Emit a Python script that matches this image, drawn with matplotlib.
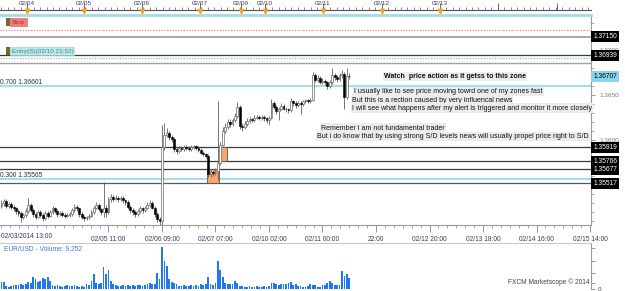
import matplotlib.pyplot as plt
from matplotlib.patches import Rectangle
from matplotlib.ticker import MultipleLocator, FixedLocator

plt.rcParams['font.family'] = ['Liberation Sans', 'DejaVu Sans']

W, H = 625, 291

# ------------------------------------------------
# EUR/USD hourly candles
# ------------------------------------------------
opens = [1.3527, 1.3530, 1.3532, 1.3527, 1.3529, 1.3526, 1.3524, 1.3521, 1.3519, 1.3514,
         1.3517, 1.3521, 1.3528, 1.3522, 1.3518, 1.3515, 1.3520, 1.3517, 1.3513, 1.3519,
         1.3516, 1.3520, 1.3524, 1.3521, 1.3518, 1.3519, 1.3517, 1.3516, 1.3517, 1.3518,
         1.3522, 1.3526, 1.3524, 1.3518, 1.3515, 1.3513, 1.3514, 1.3516, 1.3520, 1.3525,
         1.3528, 1.3523, 1.3520, 1.3525, 1.3520, 1.3534, 1.3537, 1.3535, 1.3536, 1.3534,
         1.3536, 1.3533, 1.3531, 1.3526, 1.3522, 1.3520, 1.3518, 1.3521, 1.3524, 1.3522,
         1.3525, 1.3528, 1.3530, 1.3525, 1.3518, 1.3512, 1.3510, 1.3592, 1.3606, 1.3608,
         1.3603, 1.3601, 1.3590, 1.3588, 1.3591, 1.3590, 1.3592, 1.3591, 1.3590, 1.3592,
         1.3593, 1.3591, 1.3589, 1.3586, 1.3584, 1.3582, 1.3562, 1.3564, 1.3563, 1.3566,
         1.3575, 1.3595, 1.3610, 1.3615, 1.3620, 1.3618, 1.3622, 1.3627, 1.3637, 1.3616,
         1.3614, 1.3618, 1.3621, 1.3623, 1.3622, 1.3625, 1.3626, 1.3624, 1.3626, 1.3624,
         1.3622, 1.3625, 1.3641, 1.3637, 1.3632, 1.3635, 1.3638, 1.3635, 1.3634, 1.3633,
         1.3643, 1.3641, 1.3639, 1.3641, 1.3640, 1.3643, 1.3644, 1.3643, 1.3645, 1.3672,
         1.3667, 1.3669, 1.3665, 1.3666, 1.3664, 1.3660, 1.3664, 1.3672, 1.3670, 1.3668,
         1.3672, 1.3673, 1.3648, 1.3671]
highs = [1.3533, 1.3535, 1.3534, 1.3531, 1.3531, 1.3528, 1.3526, 1.3523, 1.3521, 1.3519,
         1.3524, 1.3536, 1.3530, 1.3524, 1.3520, 1.3522, 1.3522, 1.3519, 1.3521, 1.3521,
         1.3522, 1.3527, 1.3526, 1.3523, 1.3521, 1.3521, 1.3519, 1.3519, 1.3520, 1.3524,
         1.3529, 1.3528, 1.3525, 1.3520, 1.3517, 1.3516, 1.3518, 1.3522, 1.3527, 1.3531,
         1.3530, 1.3525, 1.3553, 1.3528, 1.3537, 1.3540, 1.3539, 1.3539, 1.3538, 1.3538,
         1.3538, 1.3535, 1.3533, 1.3528, 1.3524, 1.3522, 1.3523, 1.3527, 1.3526, 1.3527,
         1.3531, 1.3533, 1.3532, 1.3527, 1.3520, 1.3514, 1.3617, 1.3619, 1.3613, 1.3610,
         1.3606, 1.3603, 1.3592, 1.3593, 1.3593, 1.3594, 1.3594, 1.3593, 1.3594, 1.3595,
         1.3595, 1.3593, 1.3591, 1.3588, 1.3586, 1.3584, 1.3567, 1.3567, 1.3569, 1.3643,
         1.3598, 1.3614, 1.3619, 1.3623, 1.3623, 1.3625, 1.3630, 1.3642, 1.3639, 1.3619,
         1.3621, 1.3624, 1.3626, 1.3625, 1.3628, 1.3628, 1.3628, 1.3628, 1.3628, 1.3626,
         1.3627, 1.3646, 1.3643, 1.3639, 1.3637, 1.3641, 1.3640, 1.3637, 1.3636, 1.3647,
         1.3645, 1.3643, 1.3643, 1.3643, 1.3645, 1.3646, 1.3646, 1.3647, 1.3676, 1.3674,
         1.3672, 1.3671, 1.3669, 1.3668, 1.3666, 1.3667, 1.3680, 1.3675, 1.3672, 1.3675,
         1.3678, 1.3676, 1.3680, 1.3674]
lows = [1.3524, 1.3527, 1.3525, 1.3524, 1.3523, 1.3521, 1.3518, 1.3516, 1.3509, 1.3512,
        1.3515, 1.3519, 1.3520, 1.3515, 1.3512, 1.3513, 1.3514, 1.3510, 1.3511, 1.3513,
        1.3514, 1.3518, 1.3519, 1.3515, 1.3516, 1.3514, 1.3513, 1.3514, 1.3515, 1.3516,
        1.3520, 1.3521, 1.3515, 1.3512, 1.3510, 1.3511, 1.3512, 1.3514, 1.3518, 1.3523,
        1.3521, 1.3517, 1.3515, 1.3514, 1.3518, 1.3531, 1.3532, 1.3533, 1.3531, 1.3532,
        1.3530, 1.3528, 1.3523, 1.3519, 1.3517, 1.3515, 1.3516, 1.3519, 1.3519, 1.3520,
        1.3523, 1.3526, 1.3523, 1.3515, 1.3509, 1.3506, 1.3505, 1.3589, 1.3603, 1.3600,
        1.3598, 1.3587, 1.3585, 1.3586, 1.3588, 1.3588, 1.3589, 1.3588, 1.3588, 1.3590,
        1.3589, 1.3587, 1.3584, 1.3582, 1.3580, 1.3559, 1.3559, 1.3560, 1.3561, 1.3556,
        1.3572, 1.3593, 1.3608, 1.3612, 1.3615, 1.3616, 1.3620, 1.3625, 1.3612, 1.3610,
        1.3612, 1.3616, 1.3619, 1.3620, 1.3620, 1.3623, 1.3622, 1.3622, 1.3621, 1.3619,
        1.3617, 1.3623, 1.3634, 1.3629, 1.3622, 1.3633, 1.3633, 1.3631, 1.3630, 1.3631,
        1.3638, 1.3636, 1.3637, 1.3629, 1.3638, 1.3641, 1.3641, 1.3641, 1.3643, 1.3664,
        1.3665, 1.3662, 1.3662, 1.3661, 1.3657, 1.3658, 1.3662, 1.3667, 1.3665, 1.3666,
        1.3669, 1.3634, 1.3646, 1.3668]
closes = [1.3530, 1.3532, 1.3527, 1.3529, 1.3526, 1.3524, 1.3521, 1.3519, 1.3514, 1.3517,
          1.3521, 1.3528, 1.3522, 1.3518, 1.3515, 1.3520, 1.3517, 1.3513, 1.3519, 1.3516,
          1.3520, 1.3524, 1.3521, 1.3518, 1.3519, 1.3517, 1.3516, 1.3517, 1.3518, 1.3522,
          1.3526, 1.3524, 1.3518, 1.3515, 1.3513, 1.3514, 1.3516, 1.3520, 1.3525, 1.3528,
          1.3523, 1.3520, 1.3525, 1.3520, 1.3534, 1.3537, 1.3535, 1.3536, 1.3534, 1.3536,
          1.3533, 1.3531, 1.3526, 1.3522, 1.3520, 1.3518, 1.3521, 1.3524, 1.3522, 1.3525,
          1.3528, 1.3530, 1.3525, 1.3518, 1.3512, 1.3510, 1.3592, 1.3606, 1.3608, 1.3603,
          1.3601, 1.3590, 1.3588, 1.3591, 1.3590, 1.3592, 1.3591, 1.3590, 1.3592, 1.3593,
          1.3591, 1.3589, 1.3586, 1.3584, 1.3582, 1.3562, 1.3564, 1.3563, 1.3566, 1.3575,
          1.3595, 1.3610, 1.3615, 1.3620, 1.3618, 1.3622, 1.3627, 1.3637, 1.3616, 1.3614,
          1.3618, 1.3621, 1.3623, 1.3622, 1.3625, 1.3626, 1.3624, 1.3626, 1.3624, 1.3622,
          1.3625, 1.3641, 1.3637, 1.3632, 1.3635, 1.3638, 1.3635, 1.3634, 1.3633, 1.3643,
          1.3641, 1.3639, 1.3641, 1.3640, 1.3643, 1.3644, 1.3643, 1.3645, 1.3672, 1.3667,
          1.3669, 1.3665, 1.3666, 1.3664, 1.3660, 1.3664, 1.3672, 1.3670, 1.3668, 1.3672,
          1.3673, 1.3648, 1.3671, 1.36707]
volumes = [5950, 5950, 2550, 1700, 2550, 3400, 3400, 3400, 4250, 3400,
           4250, 5950, 5100, 10200, 8500, 5950, 6800, 9350, 8500, 10200,
           6800, 3400, 2550, 3400, 2550, 1700, 2550, 3400, 2550, 2550,
           3400, 2550, 1700, 2550, 1700, 4250, 3400, 6800, 12750, 5100,
           4250, 5100, 18700, 12750, 16150, 6800, 4250, 3400, 2550, 2550,
           3400, 2550, 3400, 2550, 3400, 2550, 3400, 3400, 2550, 3400,
           4250, 5100, 4250, 4250, 13600, 8500, 35700, 23800, 19550, 8500,
           5950, 5100, 4250, 2550, 2550, 3400, 2550, 2550, 3400, 2550,
           3400, 2550, 4250, 3400, 4250, 10200, 4250, 3400, 5100, 23800,
           16150, 10200, 5100, 4250, 4250, 4250, 6800, 5100, 2550, 2550,
           1700, 1700, 2550, 1700, 1700, 2550, 1700, 1700, 2550, 1700,
           2550, 5100, 5100, 4250, 3400, 4250, 4250, 4250, 5100, 5950,
           3400, 4250, 2550, 2550, 1700, 1700, 2550, 4250, 3400, 3400,
           1700, 1700, 3400, 3400, 5100, 6800, 5100, 3400, 3400, 3400,
           15300, 11050, 12750, 9252]

# bottom time axis (bar index of each label)
time_ticks = [44, 66, 88, 110, 132, 154, 176, 198, 220, 242]
time_labels = ['02/05 11:00', '02/06 09:00', '02/07 07:00', '02/10 02:00', '02/11 00:00',
               '22:00', '02/12 20:00', '02/13 18:00', '02/14 16:00', '02/15 14:00']
first_time_label = '02/03/2014 13:00'

# top day strip
day_pos = [10.5, 34, 57.8, 81.6, 98.5, 108.4, 132.2, 156.5, 180.3]
day_labels = ['02/04', '02/05', '02/06', '02/07', '02/09', '02/10', '02/11', '02/12', '02/13']
day_tall = [204.2, 228.4]

# price levels
stop_level = 1.37222
level_labels_right = [1.37150, 1.36939, 1.35919, 1.35766, 1.35677, 1.35517]
current_price = 1.36707
price_ticks = [1.3600, 1.3650, 1.3700]
fib_levels = [1.36601, 1.35565]
fib_names = ['0.700 1.36601', '0.300 1.35565']
entry_dotted = 1.36911
olive_level = 1.36852
dark_levels = [1.36939, 1.35919, 1.35766, 1.35677]
gray_levels = [1.37150, 1.35517]

# S/D zones: (first bar, last bar, low, high)
zones = [(84.5, 89.5, 1.35517, 1.35677), (89.9, 92.7, 1.35766, 1.35919)]

notes = [
    (384, 76.5, 'Watch  price action as it getss to this zone', 'bold'),
    (354, 91.5, 'I usually like to see price moving towrd one of my zones fast', 'normal'),
    (352, 100, 'But this is a rection caused by very influencal news', 'normal'),
    (352, 108, 'I will see what happens after my alert is triggered and monitor it more closely', 'normal'),
    (321, 128, 'Remember I am not fundamental trader', 'normal'),
    (317, 136.5, 'But i do know that by using strong S/D levels news will usually propel price right to S/D', 'normal'),
]


def fbox(x, y, w, h):
    # pixel box -> figure fraction
    return [x / W, 1 - (y + h) / H, w / W, h / H]


def prect(x, y, w, h, **kw):
    return Rectangle((x / W, 1 - (y + h) / H), w / W, h / H, transform=fig.transFigure, **kw)


label_col = '#3a3a66'
XLIM = (-0.6, 242.4)
fig = plt.figure(figsize=(W / 100, H / 100), dpi=100)
fig.patch.set_facecolor('white')

# ------------------------------------------------
# main price panel
# ------------------------------------------------
ax = fig.add_axes(fbox(0, 15, 591, 210))
ax.set_xlim(*XLIM)
ax.set_ylim(1.350556, 1.373889)

ax.spines['left'].set_visible(False)
ax.spines['top'].set_color('#a6dbe8')
ax.spines['top'].set_linewidth(2)
ax.spines['right'].set_color('#999999')
ax.spines['bottom'].set_color('#999999')

# horizontal levels
ax.axhline(stop_level, color='#f06a6a', lw=0.8, ls=(0, (1, 1.5)), zorder=1)
ax.axhline(entry_dotted, color='#55bfcc', lw=0.8, ls=(0, (1, 1.5)), zorder=1)
ax.axhline(olive_level, color='#a6a68a', lw=1.0, zorder=1)
for lv in dark_levels:
    ax.axhline(lv, color='#3c3c3c', lw=0.9, zorder=1)
ax.axhline(gray_levels[0], color='#9a9a9a', lw=1.2, zorder=1)
ax.axhline(gray_levels[1], color='#5a5a5a', lw=0.9, zorder=1)
for lv in fib_levels:
    ax.axhline(lv, color='#9ee2ec', lw=1.4, zorder=1)

# supply / demand zones
for x0, x1, lo, hi in zones:
    ax.add_patch(Rectangle((x0, lo), x1 - x0, hi - lo, facecolor='#f6a66a',
                           edgecolor='#555555', lw=0.6, zorder=1.5))

# candles
xs = list(range(len(closes)))
ax.vlines(xs, lows, highs, color='#606060', lw=0.6, zorder=3)
up_x = [i for i in xs if closes[i] >= opens[i]]
dn_x = [i for i in xs if closes[i] < opens[i]]
ax.bar(up_x, [max(closes[i] - opens[i], 0.00003) for i in up_x], bottom=[opens[i] for i in up_x],
       width=0.75, color='white', edgecolor='#6a6a6a', lw=0.5, zorder=4)
ax.bar(dn_x, [max(opens[i] - closes[i], 0.00003) for i in dn_x], bottom=[closes[i] for i in dn_x],
       width=0.75, color='black', edgecolor='black', lw=0.4, zorder=4)

# right price axis
ax.yaxis.tick_right()
ax.yaxis.set_major_locator(FixedLocator(price_ticks))
ax.yaxis.set_minor_locator(MultipleLocator(0.001))
ax.yaxis.set_major_formatter(lambda v, p: '%.4f' % v)
ax.tick_params(axis='y', which='major', direction='out', length=3, width=0.6, color='#888888',
               labelsize=4.6, labelcolor='#777777', pad=3)
ax.tick_params(axis='y', which='minor', direction='out', length=2, width=0.5, color='#888888')

# bottom time axis
ax.xaxis.set_major_locator(FixedLocator(time_ticks))
ax.set_xticklabels(time_labels)
ax.xaxis.set_minor_locator(MultipleLocator(22 / 6))
ax.tick_params(axis='x', which='major', direction='out', length=5, width=0.6, color='#888888',
               labelsize=4.8, labelcolor=label_col, pad=3)
ax.tick_params(axis='x', which='minor', direction='out', length=2.5, width=0.5, color='#888888')
fig.text(1 / W, 1 - 237 / H, first_time_label, fontsize=4.8, color=label_col, ha='left', va='center')

# price boxes on the right
ytr = ax.get_yaxis_transform()
for lv in level_labels_right:
    ax.text(1.004, lv, '%.5f' % lv, transform=ytr, ha='left', va='center', fontsize=4.8,
            color='white', clip_on=False, zorder=6,
            bbox=dict(boxstyle='square,pad=0.3', fc='black', ec='none'))
ax.text(1.004, current_price, '%.5f' % current_price, transform=ytr, ha='left', va='center',
        fontsize=4.8, color='black', clip_on=False, zorder=6,
        bbox=dict(boxstyle='square,pad=0.3', fc='#86d6f2', ec='none'))

# fib labels
for lv, name in zip(fib_levels, fib_names):
    ax.text(0.0, lv + 0.0004, name, transform=ytr, ha='left', va='center', fontsize=4.8,
            color='#333333', zorder=5)

# notes
for x, y, txt, wt in notes:
    fig.text(x / W, 1 - y / H, txt, fontsize=5.0, fontweight=wt, color='#111111',
             ha='left', va='center',
             bbox=dict(boxstyle='square,pad=0.15', fc='#ececec', ec='none'))

# stop / entry tags
fig.add_artist(prect(6, 18, 4, 8, facecolor='#6e6e2e', edgecolor='none'))
fig.add_artist(prect(10, 18, 17, 8, facecolor='#f27c7c', edgecolor='#e06666', lw=0.5))
fig.text(12 / W, 1 - 22.3 / H, 'Stop', fontsize=4.6, color='#a83030', ha='left', va='center')
fig.add_artist(prect(6, 47, 4, 8, facecolor='#6e6e2e', edgecolor='none'))
fig.add_artist(prect(10, 47, 64, 8, facecolor='#bfe7e7', edgecolor='#9ed3d3', lw=0.5))
fig.text(12 / W, 1 - 51.3 / H, 'Entry(S)(02/10 21:52)', fontsize=4.6, color='#2f8f8f',
         ha='left', va='center')

# ------------------------------------------------
# top day strip
# ------------------------------------------------
axt = fig.add_axes(fbox(0, 0, 591, 10))
axt.set_xlim(*XLIM)
axt.set_ylim(0, 1)
for s in ['left', 'right', 'top']:
    axt.spines[s].set_visible(False)
axt.spines['bottom'].set_color('#555555')
axt.spines['bottom'].set_linewidth(0.8)
axt.xaxis.set_major_locator(FixedLocator(day_pos + day_tall))
axt.xaxis.set_minor_locator(MultipleLocator(2.65))
axt.tick_params(axis='x', which='major', direction='in', length=5, width=0.6, color='#555555',
                labelbottom=False)
axt.tick_params(axis='x', which='minor', direction='in', length=2, width=0.5, color='#555555')
axt.set_yticks([])
for xp, lab in zip(day_pos, day_labels):
    axt.text(xp, 0.62, lab, ha='center', va='center', fontsize=4.6, color=label_col)
axt.plot(day_pos, [-0.1] * len(day_pos), ls='none', marker='v', ms=3.2, color='#f5a623',
         clip_on=False, zorder=5)

# ------------------------------------------------
# volume panel
# ------------------------------------------------
axv = fig.add_axes(fbox(0, 243, 591, 46))
axv.set_xlim(*XLIM)
axv.set_ylim(0, 39100)
axv.bar(xs, volumes, width=0.72, color='#1e78f0', zorder=2)
axv.spines['left'].set_visible(False)
axv.spines['bottom'].set_visible(False)
axv.spines['top'].set_color('#c8c8c8')
axv.spines['right'].set_color('#999999')
axv.yaxis.tick_right()
axv.set_yticks([0, 5500, 14000, 24000, 35000])
axv.set_yticklabels(['0', '', '', '', ''])
axv.tick_params(axis='y', direction='out', length=3, width=0.6, color='#888888',
                labelsize=4.6, labelcolor='#444444', pad=2)
axv.tick_params(axis='x', bottom=False, labelbottom=False)
axv.text(0.007, 0.88, 'EUR/USD - Volume: 9,252', transform=axv.transAxes, fontsize=4.8,
         color='#3d7be0', ha='left', va='center')
axv.text(0.998, 0.06, 'FXCM Marketscope \u00a9 2014', transform=axv.transAxes, fontsize=4.8,
         color='#444444', ha='right', va='bottom')

fig.savefig('out.png', dpi=100)
